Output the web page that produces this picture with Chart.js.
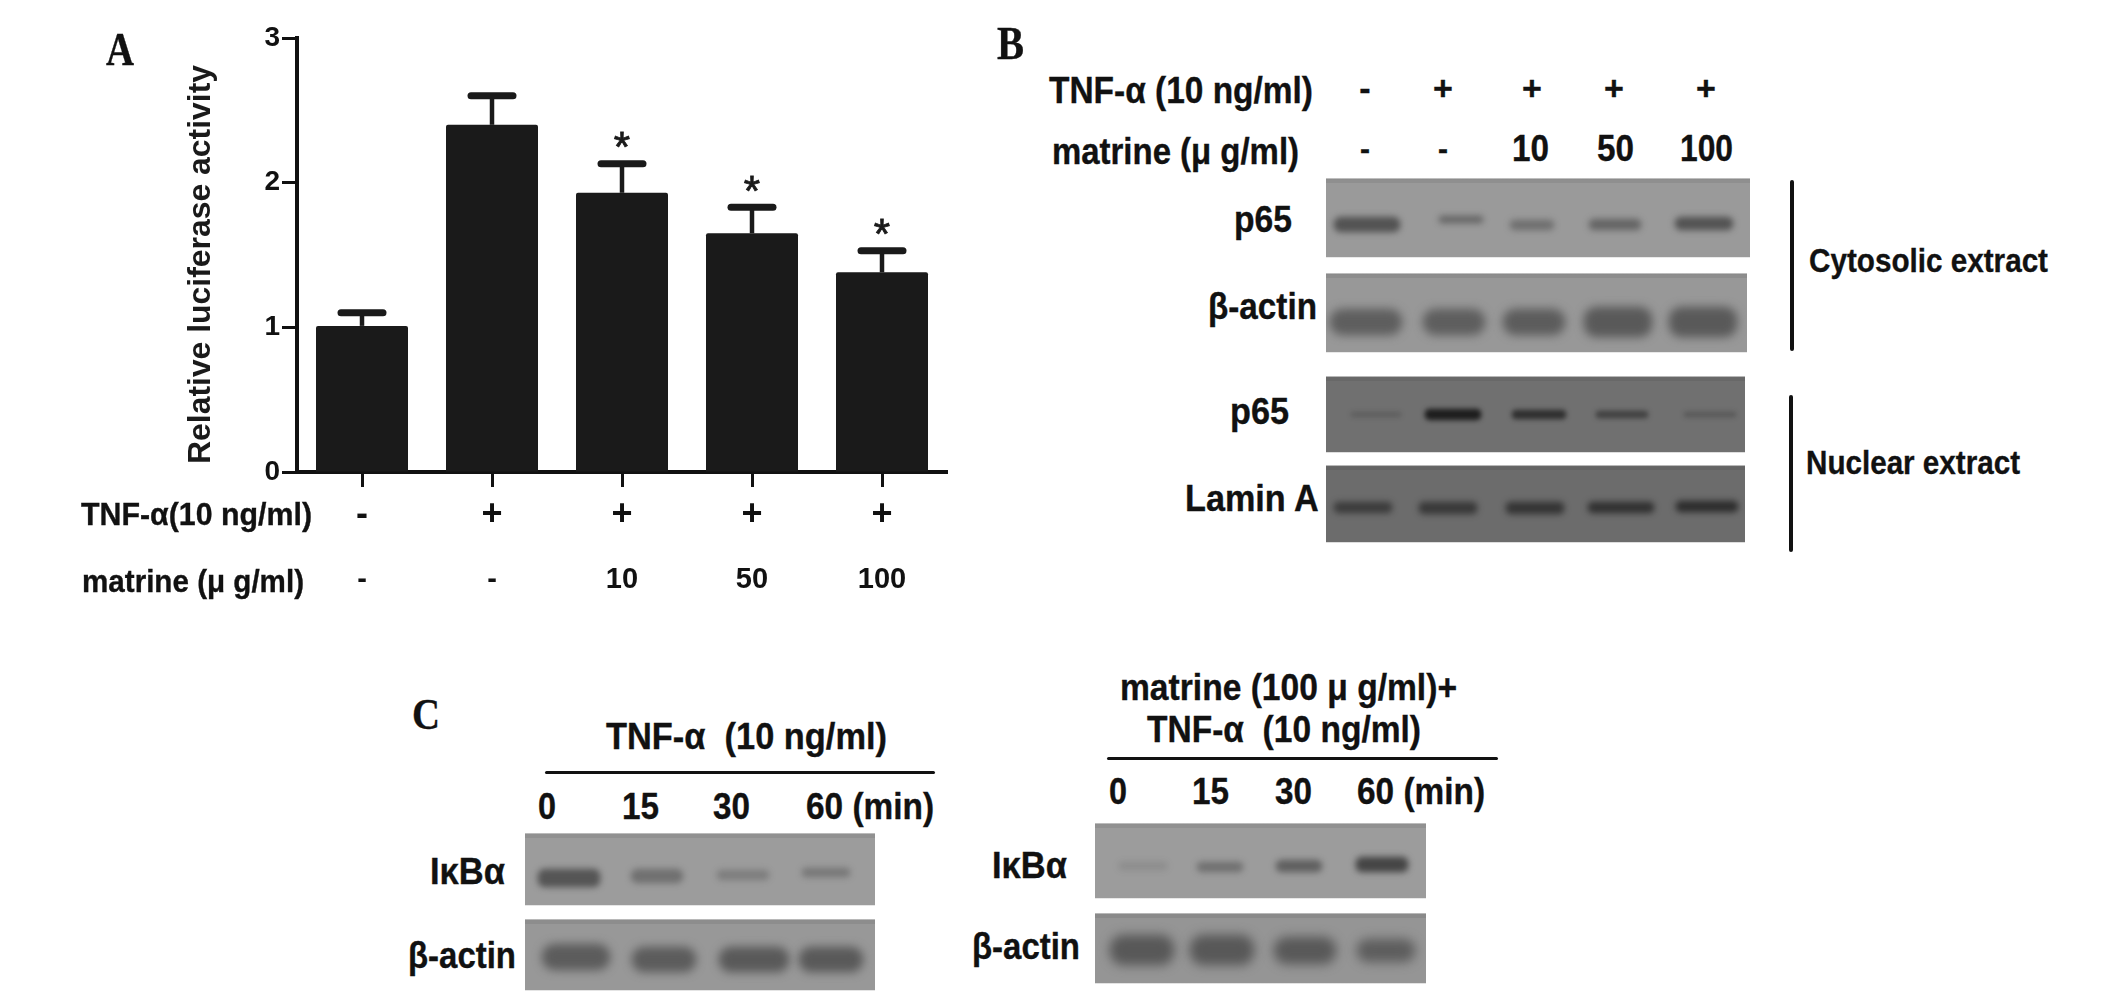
<!DOCTYPE html>
<html><head><meta charset="utf-8">
<script src="https://cdn.jsdelivr.net/npm/chart.js@4"></script>
<style>
html,body{margin:0;padding:0;background:#fff;width:2126px;height:993px;overflow:hidden}
canvas{position:absolute;display:block}
.t{position:absolute;white-space:pre;font-weight:700;color:#111;transform-origin:0 50%;line-height:1;-webkit-text-stroke:.35px #111}
.r{position:absolute;background:#111;border-radius:2px}
</style></head><body>
<script>
// ---------- Panel A data ----------
const tnfRow = ['-','+','+','+','+'];
const matrineRow = ['-','-','10','50','100'];
const luciferase = [1.01,2.4,1.93,1.65,1.38];
const luciferaseErr = [0.09,0.2,0.2,0.18,0.15];
const significance = ['','','*','*','*'];
const yTicks = [0,1,2,3];
const yTitle = 'Relative luciferase activity';

// ---------- Blot data: band centre along the lane, band span on the gel, and density ----------
const p65CytoLanes=[41,135,206,289,378],      p65CytoSpan=[[39,54],[38,45],[42,52],[41,52],[39,52]],    p65CytoDensity=[.85,.62,.5,.62,.85];
const actinCytoLanes=[40,128,208,292,377],    actinCytoSpan=[[36,62],[36,62],[36,62],[34,64],[34,64]],  actinCytoDensity=[.72,.72,.74,.78,.78];
const p65NucLanes=[50,127,213,296,384],       p65NucSpan=[[36,41],[33,44],[34,43],[35,42],[36,41]],     p65NucDensity=[.2,.95,.75,.55,.28];
const laminLanes=[37,122,209,295,381],        laminSpan=[[37,48],[37,49],[37,49],[37,48],[36,47]],      laminDensity=[.62,.66,.7,.75,.82];
const ikbLanes=[44,132,218,301],              ikbSpan=[[36,54],[36,50],[37,47],[35,44]],                ikbDensity=[.82,.5,.35,.42];
const actinLeftLanes=[51,139,229,306],        actinLeftSpan=[[25,51],[28,53],[28,53],[28,53]],          actinLeftDensity=[.75,.75,.78,.78];
const ikbMatLanes=[48,125,204,287],           ikbMatSpan=[[39,47],[39,49],[37,49],[34,49]],             ikbMatDensity=[.16,.45,.62,.9];
const actinRightLanes=[47,127,210,291],       actinRightSpan=[[22,52],[22,52],[24,51],[26,49]],         actinRightDensity=[.8,.8,.78,.72];

// ---------- Layout (separate from data) ----------
const FONT='"Liberation Sans",Arial,sans-serif', SERIF='"Liberation Serif",serif';
const plot={left:297,right:947,top:38,bottom:472};

const measure=document.createElement('canvas').getContext('2d');
function text(str,x0,x1,cy,size,fam){
  const d=document.createElement('div');d.className='t';d.textContent=str;
  d.style.fontFamily=fam||FONT;d.style.fontSize=size+'px';
  measure.font='700 '+size+'px '+(fam||FONT);
  const k=(x1-x0)/measure.measureText(str).width;
  d.style.left=x0+'px';d.style.top=(cy-size/2)+'px';d.style.transform='scaleX('+k+')';
  document.body.appendChild(d);
}
function centred(str,cx,cy,size,w){ measure.font='700 '+size+'px '+FONT;
  const mw=w||measure.measureText(str).width; text(str,cx-mw/2,cx+mw/2,cy,size); }
function rule(x,y,w,h){const d=document.createElement('div');d.className='r';
  d.style.cssText+=`left:${x}px;top:${y}px;width:${w}px;height:${h}px`;document.body.appendChild(d);}
function canvas(l,t,w,h){const c=document.createElement('canvas');c.width=w;c.height=h;
  c.style.left=l+'px';c.style.top=t+'px';c.style.width=w+'px';c.style.height=h+'px';document.body.appendChild(c);return c.getContext('2d');}

// ---------- Panel A ----------
const errorBars={id:'errorBars',afterDatasetsDraw(ch){
  const {ctx,scales:{x,y}}=ch;ctx.save();ctx.strokeStyle='#1a1a1a';ctx.fillStyle='#1a1a1a';
  luciferase.forEach((v,i)=>{
    const px=x.getPixelForValue(i),top=y.getPixelForValue(v+luciferaseErr[i]),base=y.getPixelForValue(v);
    ctx.lineWidth=4.5;ctx.lineCap='butt';ctx.beginPath();ctx.moveTo(px,base);ctx.lineTo(px,top);ctx.stroke();
    ctx.lineWidth=7;ctx.lineCap='round';ctx.beginPath();ctx.moveTo(px-21,top);ctx.lineTo(px+21,top);ctx.stroke();
    if(significance[i]){ctx.font='400 42px '+FONT;ctx.textAlign='center';ctx.textBaseline='middle';
      ctx.fillText(significance[i],px,top-14);ctx.lineWidth=.8;ctx.lineCap='butt';ctx.strokeText(significance[i],px,top-14);}
  });
  ctx.restore();
},afterDraw(ch){
  const {ctx}=ch;ctx.save();ctx.translate(201,464);ctx.rotate(-Math.PI/2);
  ctx.font='700 32px '+FONT;ctx.fillStyle='#1a1a1a';ctx.textBaseline='middle';ctx.textAlign='left';
  ctx.scale(399/ctx.measureText(yTitle).width,1);ctx.fillText(yTitle,0,0);ctx.restore();
}};
new Chart(canvas(0,0,1000,620),{type:'bar',
  data:{labels:tnfRow,datasets:[{data:luciferase,backgroundColor:'#1a1a1a',barPercentage:92/130,categoryPercentage:1,borderRadius:2,xAxisID:'x',yAxisID:'y'}]},
  plugins:[errorBars],
  options:{responsive:false,animation:false,events:[],
    layout:{padding:{top:plot.top,right:1000-plot.right,left:0,bottom:0}},
    plugins:{legend:{display:false},tooltip:{enabled:false}},
    scales:{
      y:{min:0,max:3,afterFit:s=>{s.width=plot.left},afterBuildTicks:s=>{s.ticks=yTicks.map(v=>({value:v}))},
        border:{color:'#111',width:4},grid:{drawOnChartArea:false,tickLength:15,tickWidth:3,tickColor:'#111'},
        ticks:{color:'#111',padding:2,font:{family:FONT,size:28,weight:'700'}}},
      x:{type:'category',position:'bottom',offset:true,afterFit:s=>{s.height=70},
        border:{color:'#111',width:4},grid:{offset:false,drawOnChartArea:false,tickLength:15,tickWidth:3,tickColor:'#111'},
        ticks:{color:'#111',padding:6,autoSkip:false,maxRotation:0,font:{family:FONT,size:36,weight:'700'}}},
      x2:{type:'category',position:'bottom',labels:matrineRow,offset:true,afterFit:s=>{s.height=78},
        border:{display:false},grid:{display:false},
        ticks:{color:'#111',padding:13,autoSkip:false,maxRotation:0,font:{family:FONT,size:29,weight:'700'}}}
    }}});

// ---------- Blots ----------
function blot(l,t,w,h,lanes,spans,density,widths,bg,ink,blur,radius){
  const backdrop={id:'backdrop',beforeDraw(ch){const c=ch.ctx;
      const g=c.createLinearGradient(0,0,0,h);
      g.addColorStop(0,'rgba(0,0,0,0)');g.addColorStop(.02,bg);g.addColorStop(.94,bg);g.addColorStop(.985,bg);g.addColorStop(1,'rgba(255,255,255,.2)');
      c.fillStyle=g;c.fillRect(0,0,w,h);
      c.fillStyle='rgba(0,0,0,.07)';c.fillRect(0,1,w,4);
    },beforeDatasetsDraw(ch){ch.ctx.save();ch.ctx.filter='blur('+blur+'px)';},
    afterDatasetsDraw(ch){ch.ctx.restore();}};
  new Chart(canvas(l,t,w,h),{type:'bar',
    data:{datasets:lanes.map((x,i)=>({data:[{x,y:spans[i]}],barThickness:widths[i],borderSkipped:false,borderRadius:radius,
      backgroundColor:`rgba(${ink},${ink},${ink},${density[i]})`,grouped:false}))},
    plugins:[backdrop],
    options:{responsive:false,animation:false,events:[],layout:{padding:0},
      plugins:{legend:{display:false},tooltip:{enabled:false}},
      scales:{x:{type:'linear',offset:false,grid:{offset:false},min:0,max:w,display:false},y:{min:0,max:h,reverse:true,display:false}}}});
}
blot(1326,178,424,80,p65CytoLanes,p65CytoSpan,p65CytoDensity,[66,44,44,52,58],'#9a9a9a',70,3,7);
blot(1326,273,421,80,actinCytoLanes,actinCytoSpan,actinCytoDensity,[72,62,62,68,68],'#989898',72,5,13);
blot(1326,376,419,77,p65NucLanes,p65NucSpan,p65NucDensity,[50,56,54,52,52],'#707070',25,2.5,5);
blot(1326,465,419,78,laminLanes,laminSpan,laminDensity,[58,58,58,66,62],'#6c6c6c',30,3,5);
blot(525,833,350,73,ikbLanes,ikbSpan,ikbDensity,[62,52,52,48],'#9c9c9c',70,3,7);
blot(525,919,350,72,actinLeftLanes,actinLeftSpan,actinLeftDensity,[68,64,70,64],'#989898',72,5,13);
blot(1095,823,331,76,ikbMatLanes,ikbMatSpan,ikbMatDensity,[48,46,46,52],'#9c9c9c',60,3,6);
blot(1095,913,331,71,actinRightLanes,actinRightSpan,actinRightDensity,[64,64,62,58],'#959595',72,5.5,14);

// ---------- Text & rules ----------
text('A',106,134,50,46,SERIF);
text('B',997,1024,44,46,SERIF);
text('C',412,440,715,44,SERIF);

text('TNF-α(10 ng/ml)',81,312,514,32);
text('matrine (μ g/ml)',82,304,581,32);

text('TNF-α (10 ng/ml)',1049,1313,91,36);
text('matrine (μ g/ml)',1052,1299,152,36);
['-','+','+','+','+'].forEach((s,i)=>centred(s,[1365,1443,1532,1614,1706][i],88,34));
['-','-','10','50','100'].forEach((s,i)=>centred(s,[1365,1443,1530,1615,1706][i],149,i<2?30:36,[0,0,37,37,53][i]));
text('p65',1234,1292,220,36);
text('β-actin',1208,1317,307,36);
text('p65',1230,1289,412,36);
text('Lamin A',1185,1320,499,36);
text('Cytosolic extract',1809,2048,260,33);
text('Nuclear extract',1806,2020,462,33);
rule(1790,180,4,171);
rule(1789,395,4,157);

text('TNF-α  (10 ng/ml)',606,887,737,36);
rule(545,771,390,3);
centred('0',547,807,36,18);centred('15',640,807,36,37);centred('30',731,807,36,37);
text('60 (min)',806,934,807,36);
text('IκBα',430,505,872,36);
text('β-actin',408,516,956,36);

text('matrine (100 μ g/ml)+',1120,1457,688,36);
text('TNF-α  (10 ng/ml)',1147,1421,730,36);
rule(1107,757,391,3);
centred('0',1118,792,36,18);centred('15',1210,792,36,37);centred('30',1293,792,36,37);
text('60 (min)',1357,1485,792,36);
text('IκBα',992,1067,866,36);
text('β-actin',972,1080,947,36);
</script>
</body></html>
